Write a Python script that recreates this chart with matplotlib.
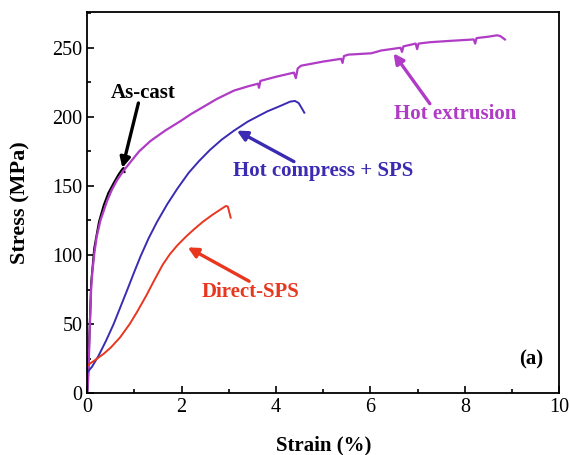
import matplotlib
matplotlib.use('Agg')
import matplotlib.pyplot as plt
from matplotlib.ticker import MultipleLocator

plt.rcParams['font.family'] = ['Liberation Serif', 'DejaVu Serif']

# 热挤压
ext_strain = [0, 0.02, 0.03, 0.045, 0.06, 0.085, 0.11, 0.15, 0.2, 0.28, 0.35, 0.42, 0.52, 0.63,
              0.77, 0.91, 1.1, 1.34, 1.65, 1.98, 2.2, 2.4, 2.75, 3.11, 3.4, 3.62, 3.64, 3.67,
              4.0, 4.38, 4.42, 4.46, 4.53, 5.0, 5.38, 5.41, 5.44, 5.53, 6.02, 6.23,
              6.64, 6.67, 6.70, 6.96, 6.99, 7.02, 7.26, 7.7, 8.19, 8.22, 8.25, 8.5, 8.68,
              8.75, 8.85]
ext_stress = [0, 10, 19, 36, 53, 77, 88, 101, 113, 125, 132, 139, 147, 154,
              161, 167, 175, 182.5, 190, 197, 202, 206, 213, 219, 222, 224, 221, 226,
              229, 232, 228, 235, 237, 240, 242, 239, 244, 245, 246, 248,
              250, 247, 251, 253, 249, 253, 254, 255, 256, 253, 257, 258, 259,
              258.5, 256]

# 铸态
cast_strain = [0, 0.02, 0.045, 0.085, 0.15, 0.25, 0.35, 0.45, 0.56, 0.66, 0.74, 0.77, 0.79]
cast_stress = [0, 14, 40, 80, 105, 124, 136, 145, 152, 158, 162, 163, 160]

# 热压 + SPS
hc_strain = [0, 0.1, 0.24, 0.4, 0.56, 0.7, 0.84, 1.0, 1.13, 1.3, 1.48, 1.7, 1.91, 2.15, 2.37,
             2.6, 2.85, 3.11, 3.4, 3.65, 3.82, 4.1, 4.3, 4.4, 4.48, 4.55, 4.6]
hc_stress = [15, 19, 27, 38, 50, 62, 74, 88, 99, 112, 124, 137, 148, 159.5, 168,
             176, 183.5, 190, 196.5, 201, 204, 208, 211, 211.5, 210, 206, 203]

# 直接 SPS
ds_strain = [0, 0.15, 0.35, 0.5, 0.7, 0.9, 1.06, 1.25, 1.41, 1.6, 1.75, 1.91, 2.1, 2.26,
             2.45, 2.65, 2.85, 2.94, 2.98, 3.01, 3.04]
ds_stress = [20, 23.5, 28.5, 33, 40.5, 50, 59, 70.5, 81, 93, 100.5, 107, 113.5, 118.5,
             124, 129, 133.5, 135.5, 135, 131, 127]

c_ext = '#B03CC6'
c_hc = '#3A2BB2'
c_ds = '#E8361F'

fig = plt.figure(figsize=(5.7, 4.55), dpi=100)
ax = fig.add_axes([0.153, 0.136, 0.828, 0.838])

ax.plot(cast_strain, cast_stress, color='black', lw=1.5)
ax.plot(ext_strain, ext_stress, color=c_ext, lw=1.6)
ax.plot(hc_strain, hc_stress, color=c_hc, lw=1.4)
ax.plot(ds_strain, ds_stress, color=c_ds, lw=1.4)

ax.set_xlim(0, 10)
ax.set_ylim(0, 276)
ax.xaxis.set_major_locator(MultipleLocator(2))
ax.xaxis.set_minor_locator(MultipleLocator(1))
ax.yaxis.set_major_locator(MultipleLocator(50))
ax.yaxis.set_minor_locator(MultipleLocator(25))
ax.tick_params(which='both', direction='in', labelsize=14.5, width=1.2)
ax.tick_params(which='major', length=5)
ax.tick_params(which='minor', length=3)
for s in ax.spines.values():
    s.set_linewidth(1.3)

ax.set_xlabel('Strain (%)', fontsize=15, fontweight='bold', labelpad=13)
ax.set_ylabel('Stress (MPa)', fontsize=16, fontweight='bold', labelpad=16)

def label(text, pos, tail, head, color):
    ax.text(pos[0], pos[1], text, color=color, fontsize=15, fontweight='bold',
            ha='center', va='center')
    ax.annotate('', xy=head, xytext=tail,
                arrowprops=dict(arrowstyle='-|>', color=color, lw=2.4,
                                mutation_scale=15, shrinkA=0, shrinkB=0))

label('As-cast', (1.19, 217), (1.085, 210), (0.745, 163), 'black')
label('Hot extrusion', (7.79, 202), (7.26, 209.5), (6.49, 246), c_ext)
label('Hot compress + SPS', (5.0, 161), (4.38, 167.6), (3.17, 190), c_hc)
label('Direct-SPS', (3.45, 73), (3.43, 81), (2.13, 105.5), c_ds)
ax.text(9.4, 24, '(a)', fontsize=15, fontweight='bold', ha='center', va='center')

fig.savefig('out.png', dpi=100)
